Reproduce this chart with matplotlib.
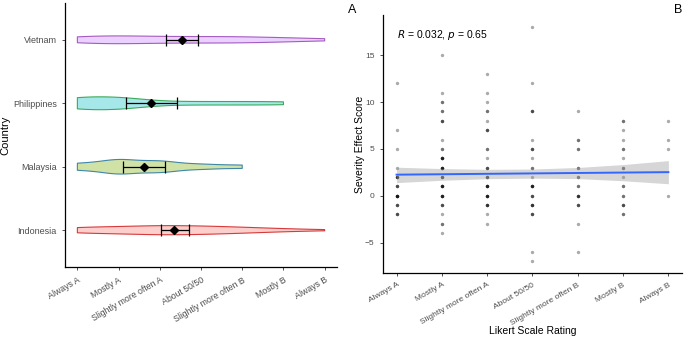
import matplotlib
matplotlib.use("Agg")
import matplotlib.pyplot as plt
import numpy as np
from matplotlib import mlab

plt.rcParams["font.family"] = ["Liberation Sans", "DejaVu Sans"]

INK = "#000000"
TICK_TEXT = "#4d4d4d"
TICK_LINE = "#333333"

likert_labels = ["Always A", "Mostly A", "Slightly more often A", "About 50/50",
                 "Slightly more often B", "Mostly B", "Always B"]
likert_levels = [1, 2, 3, 4, 5, 6, 7]

# panel A: responses per Likert level, by country (bottom to top)
countries = ["Indonesia", "Malaysia", "Philippines", "Vietnam"]
response_counts = [
    [12, 14, 19, 17, 12, 6, 2],
    [4, 9, 7, 3, 2, 0, 0],
    [8, 8, 2, 2, 2, 2, 0],
    [10, 12, 9, 9, 9, 6, 3],
]
country_mean = [3.35, 2.62, 2.79, 3.54]
country_lo = [3.02, 2.11, 2.17, 3.15]
country_hi = [3.70, 3.13, 3.42, 3.93]
fill_colors = ["#F8766D", "#7CAE00", "#00BFC4", "#C77CFF"]
edge_colors = ["#d63a3a", "#3f86a8", "#3aaa5a", "#a45cc0"]

# panel B: severity scores at each rating, with how many responses share a value
score_values = [
    [12, 7, 5, 3, 2, 1, 0, -1, -2],
    [15, 11, 10, 9, 8, 6, 5, 4, 3, 2, 1, 0, -1, -2, -3, -4],
    [13, 11, 10, 9, 8, 7, 5, 4, 3, 2, 1, 0, -1, -2, -3],
    [18, 12, 9, 6, 5, 4, 3, 2, 1, 0, -1, -2, -6, -7],
    [9, 6, 5, 3, 2, 1, 0, -1, -3, -6],
    [8, 7, 6, 5, 4, 3, 2, 1, 0, -1, -2],
    [8, 6, 5, 0],
]
score_counts = [
    [1, 1, 1, 1, 4, 3, 6, 3, 3],
    [1, 1, 2, 2, 3, 1, 2, 5, 5, 3, 5, 5, 3, 1, 2, 1],
    [1, 1, 1, 2, 1, 3, 2, 1, 3, 3, 5, 5, 4, 1, 1],
    [1, 1, 3, 1, 3, 1, 2, 1, 5, 3, 4, 3, 1, 1],
    [1, 2, 2, 2, 2, 2, 4, 3, 1, 1],
    [2, 1, 1, 2, 1, 2, 1, 2, 2, 3, 2],
    [1, 1, 1, 1],
]
fit_ends = [2.25, 2.52]
band_upper = [3.05, 2.90, 2.82, 2.85, 3.02, 3.33, 3.75]
band_lower = [1.40, 1.65, 1.82, 1.88, 1.83, 1.60, 1.28]

fig = plt.figure(figsize=(6.85, 3.4), dpi=100)
ax_a = fig.add_axes([0.0949, 0.2147, 0.3971, 0.7765])
ax_b = fig.add_axes([0.5591, 0.197, 0.4365, 0.759])


def style_axes(ax, size):
    for spine in ("top", "right"):
        ax.spines[spine].set_visible(False)
    for spine in ("left", "bottom"):
        ax.spines[spine].set_color(INK)
        ax.spines[spine].set_linewidth(0.9)
    ax.tick_params(colors=TICK_LINE, labelcolor=TICK_TEXT, labelsize=size,
                   length=2.5, width=0.6)


# --- panel A: horizontal violins with mean and interval ---
half_width = 0.115
kdes = []
for counts in response_counts:
    data = np.repeat(likert_levels, counts).astype(float)
    kde = mlab.GaussianKDE(data, bw_method=0.4)
    grid = np.linspace(data.min(), data.max(), 200)
    kdes.append((grid, kde.evaluate(grid)))
scale = half_width / max(d.max() for _, d in kdes)

for i, (grid, dens) in enumerate(kdes):
    pos = i + 1
    ax_a.fill_between(grid, pos - dens * scale, pos + dens * scale,
                      facecolor=fill_colors[i], alpha=0.35, linewidth=0)
    ax_a.fill_between(grid, pos - dens * scale, pos + dens * scale,
                      facecolor="none", edgecolor=edge_colors[i], linewidth=0.8)
    ax_a.errorbar(country_mean[i], pos,
                  xerr=[[country_mean[i] - country_lo[i]], [country_hi[i] - country_mean[i]]],
                  fmt="D", color=INK, markersize=4.5, elinewidth=0.9,
                  capsize=4.5, capthick=0.9)

ax_a.set_xlim(0.7, 7.3)
ax_a.set_ylim(0.42, 4.58)
ax_a.set_xticks(likert_levels)
ax_a.set_xticklabels(likert_labels, rotation=30, ha="right", rotation_mode="anchor")
ax_a.set_yticks(range(1, len(countries) + 1))
ax_a.set_yticklabels(countries)
ax_a.set_ylabel("Country", fontsize=8, color=INK)
ax_a.yaxis.set_label_coords(-0.2, 0.5)
style_axes(ax_a, 6.3)
ax_a.tick_params(axis="y", labelsize=6.5)

# --- panel B: scatter with linear fit ---
xs, ys = [], []
for lvl, vals, cnts in zip(likert_levels, score_values, score_counts):
    xs.extend([lvl] * sum(cnts))
    ys.extend(np.repeat(vals, cnts))
ax_b.scatter(xs, ys, s=6, color=INK, alpha=0.33, linewidths=0, zorder=2)
ax_b.fill_between(likert_levels, band_lower, band_upper, color="#999999",
                  alpha=0.4, linewidth=0, zorder=3)
ax_b.plot([likert_levels[0], likert_levels[-1]], fit_ends, color="#3366FF",
          linewidth=1.4, zorder=4)
ax_b.text(1.0, 17.2, r"$\it{R}$ = 0.032, $\it{p}$ = 0.65", fontsize=7.5,
          color=INK, va="center", ha="left")

ax_b.set_xlim(0.7, 7.3)
ax_b.set_ylim(-8.25, 19.3)
ax_b.set_xticks(likert_levels)
ax_b.set_xticklabels(likert_labels, rotation=30, ha="right", rotation_mode="anchor")
ax_b.set_yticks([-5, 0, 5, 10, 15])
ax_b.set_xlabel("Likert Scale Rating", fontsize=7.5, color=INK, va="center")
ax_b.xaxis.set_label_coords(0.5, -0.223)
ax_b.set_ylabel("Severity Effect Score", fontsize=7.5, color=INK, va="center")
ax_b.yaxis.set_label_coords(-0.077, 0.5)
style_axes(ax_b, 6)

fig.text(352 / 685, 1 - 10 / 340, "A", fontsize=9, ha="center", va="center", color=INK)
fig.text(678 / 685, 1 - 10 / 340, "B", fontsize=9, ha="center", va="center", color=INK)

fig.savefig("out.png", dpi=100, facecolor="white")
plt.close(fig)
